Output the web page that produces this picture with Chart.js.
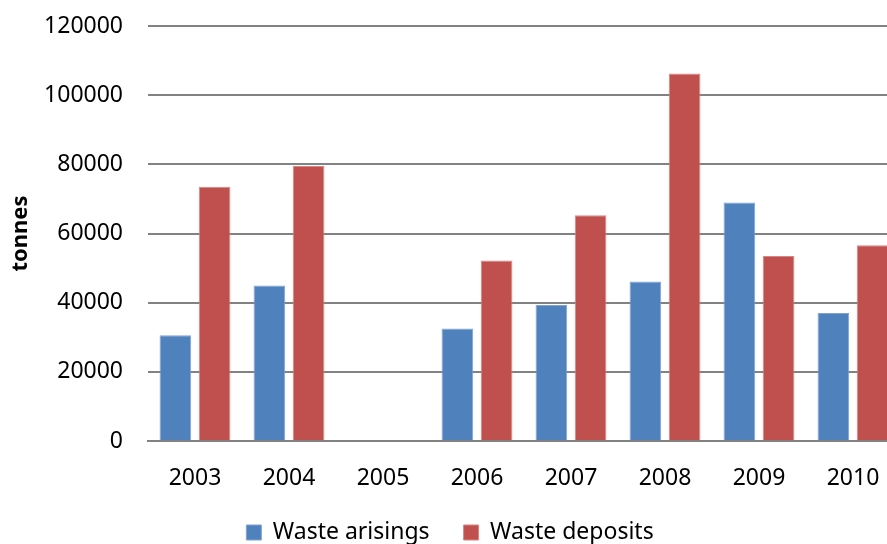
<!DOCTYPE html>
<html>
<head>
<meta charset="utf-8">
<script src="https://cdn.jsdelivr.net/npm/chart.js@4/dist/chart.umd.min.js"></script>
<style>
  html, body { margin: 0; padding: 0; background: #fff; }
  #wrap { width: 887px; height: 544px; overflow: hidden; position: relative; }
  #c { position: absolute; left: 0; top: 0; }
</style>
</head>
<body>
<div id="wrap"><canvas id="c" width="908" height="554"></canvas></div>
<script>
const years = ['2003', '2004', '2005', '2006', '2007', '2008', '2009', '2010'];
const wasteArisings = [30600, 45000, null, 32500, 39300, 46100, 69000, 37000];
const wasteDeposits = [73500, 79500, null, 52200, 65300, 106300, 53500, 56600];
const yTicks = [0, 20000, 40000, 60000, 80000, 100000, 120000];

const FONT = "'Noto Sans', 'Open Sans', sans-serif";
const GRID = '#828282';

new Chart(document.getElementById('c'), {
  type: 'bar',
  data: {
    labels: years,
    datasets: [
      {
        label: 'Waste arisings',
        data: wasteArisings,
        backgroundColor: '#4F81BD',
        borderColor: '#7FA3D4',
        borderWidth: 1,
        categoryPercentage: 0.834,
        barPercentage: 0.808
      },
      {
        label: 'Waste deposits',
        data: wasteDeposits,
        backgroundColor: '#C0504D',
        borderColor: '#D98583',
        borderWidth: 1,
        categoryPercentage: 0.834,
        barPercentage: 0.808
      }
    ]
  },
  options: {
    responsive: false,
    animation: false,
    layout: { padding: { top: 26, right: 8, bottom: 0, left: 0 } },
    plugins: {
      tooltip: { enabled: false },
      legend: {
        position: 'bottom',
        labels: {
          color: '#000',
          font: { family: FONT, size: 23 },
          boxWidth: 15,
          boxHeight: 15,
          padding: 34
        }
      }
    },
    scales: {
      x: {
        afterFit: (s) => { s.height = 46; },
        grid: { display: false, drawTicks: false },
        border: { display: true, color: GRID, width: 2 },
        ticks: { color: '#000', font: { family: FONT, size: 23 }, padding: 24, maxRotation: 0 }
      },
      y: {
        min: 0,
        max: 120000,
        afterFit: (s) => { s.width = 148; },
        afterBuildTicks: (s) => { s.ticks = yTicks.map(v => ({ value: v })); },
        grid: { color: GRID, lineWidth: 2, drawTicks: true, tickLength: 25, tickColor: 'rgba(0,0,0,0)' },
        border: { display: false },
        title: {
          display: true,
          text: 'tonnes',
          color: '#000',
          font: { family: FONT, size: 22, weight: 'bold' },
          padding: { top: 8, bottom: 0 }
        },
        ticks: {
          color: '#000',
          font: { family: FONT, size: 23 },
          padding: 0,
          callback: (v) => String(v)
        }
      }
    }
  }
});
</script>
</body>
</html>
